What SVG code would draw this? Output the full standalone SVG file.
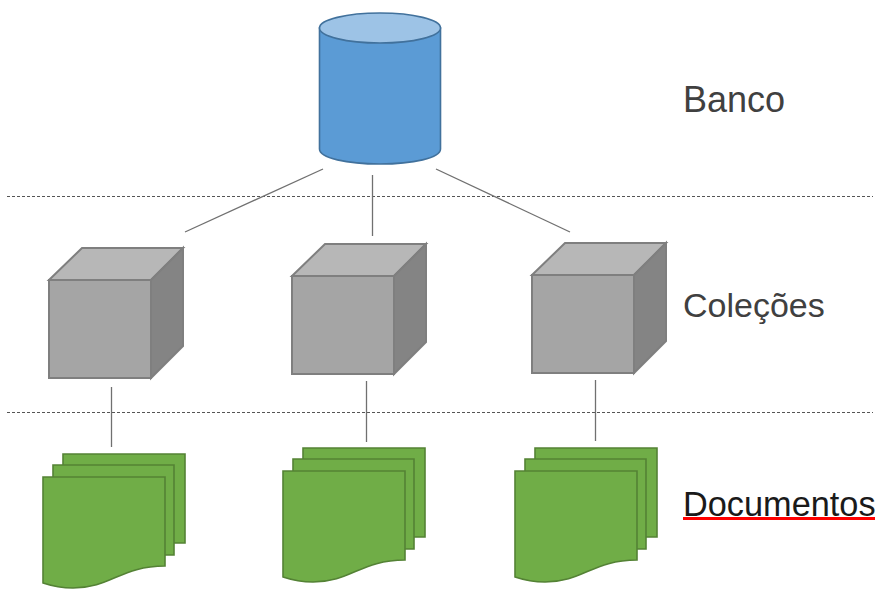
<svg xmlns="http://www.w3.org/2000/svg" width="883" height="593" viewBox="0 0 883 593">
<defs>
<style>
.lbl{font-family:"Liberation Sans",Arial,sans-serif;fill:#404040}
.conn{stroke:#707070;stroke-width:1.3;fill:none}
.sep{stroke:#555;stroke-width:1;stroke-dasharray:3 2;fill:none}
.cf{fill:#a5a5a5;stroke:#7f7f7f;stroke-width:2;stroke-linejoin:miter}
.ct{fill:#b7b7b7;stroke:#7f7f7f;stroke-width:2}
.cs{fill:#848484;stroke:#7f7f7f;stroke-width:2}
.doc{fill:#70ad47;stroke:#548235;stroke-width:1.6}
</style>
<g id="cube"><path class="cf" d="M0 32H102V130H0Z"/><path class="ct" d="M0 32L33 0H134L102 32Z"/><path class="cs" d="M102 32L134 0V98L102 130Z"/></g>
<g id="docs">
<path class="doc" d="M20 0H142V89H20Z"/>
<path class="doc" d="M10 11H131V101H10Z"/>
<path class="doc" d="M0 23H122V112C78 112 68 134 30 134C18 134 9 132 0 129Z"/>
</g>
</defs>
<g id="connectors">
<path class="sep" d="M7 196.500H873"/><path class="sep" d="M7 412.500H873"/>
<path class="conn" d="M323 169L185 232"/><path class="conn" d="M372.500 175V236"/><path class="conn" d="M436 169L570 232"/>
<path class="conn" d="M111.500 387V447"/><path class="conn" d="M366.500 381V442"/><path class="conn" d="M595.500 380V441"/>
</g>
<g id="banco">
<path d="M319.500 28V149C319.500 158 347 164 380 164C413 164 440.500 158 440.500 149V28Z" fill="#5b9bd5" stroke="#41719c" stroke-width="1.600"/>
<ellipse cx="380" cy="28" rx="60.500" ry="15" fill="#9dc3e6" stroke="#41719c" stroke-width="1.600"/>
</g>
<use id="colecao1" href="#cube" x="49" y="248"/>
<use id="colecao2" href="#cube" x="292" y="244"/>
<use id="colecao3" href="#cube" x="532" y="243"/>
<use id="documentos1" href="#docs" x="43" y="454"/>
<use id="documentos2" href="#docs" x="283" y="448"/>
<use id="documentos3" href="#docs" x="515" y="448"/>
<g id="label-banco"><text class="lbl" x="683" y="112" font-size="36">Banco</text></g>
<g id="label-colecoes"><text class="lbl" x="683" y="317" font-size="34">Coleções</text></g>
<g id="label-documentos"><text class="lbl" x="683" y="516" font-size="34.300" style="fill:#1a1a1a">Documentos</text><rect x="683" y="517" width="192" height="3" fill="#f00"/></g>
</svg>
